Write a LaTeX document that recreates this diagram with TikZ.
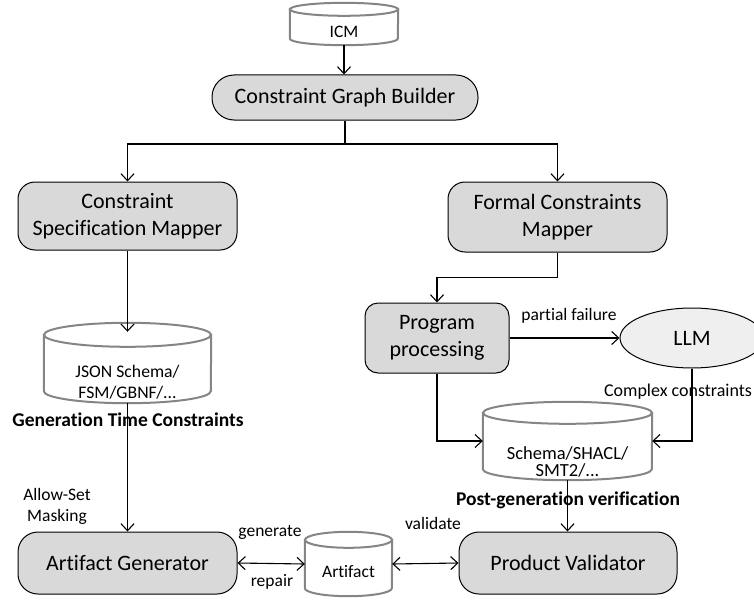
\documentclass[tikz,border=0pt]{standalone}
\usepackage{fontspec}
\setmainfont{Carlito}[Ligatures=NoCommon]
\usetikzlibrary{arrows.meta,calc,shapes.geometric}
\definecolor{boxfill}{HTML}{D9D9D9}
\definecolor{llmfill}{HTML}{EFEFEF}
\definecolor{cylgray}{HTML}{858585}
\newcommand\drawcyl[3]{%
  \filldraw[cylline] ($(#1.north west)+(0,#3)$) -- ($(#1.south west)+(0,-#3)$)
    arc[start angle=180,end angle=0,x radius=#2,y radius=#3]
    -- ($(#1.north east)+(0,#3)$) -- cycle;
  \filldraw[cylline] ($(#1.north)+(0,#3)$) ellipse[x radius=#2,y radius=#3];
}
\begin{document}
\begin{tikzpicture}[x=1pt,y=-1pt,
  box/.style={draw=black, line width=1pt, fill=boxfill, rounded corners=#1,
    align=center, font=\fontsize{22}{27}\selectfont, inner sep=0pt},
  box/.default=17pt,
  cylbody/.style={draw=none, inner sep=0pt},
  cylline/.style={draw=cylgray, line width=2pt, fill=white},
  cyltext/.style={font=\fontsize{17.5}{21}\selectfont, align=center, inner sep=0pt},
  lbl/.style={font=\fontsize{17.5}{21}\selectfont, inner sep=0pt, align=center},
  blbl/.style={font=\bfseries\fontsize{19.5}{23}\selectfont, inner sep=0pt},
  conn/.style={draw=black, line width=1.1pt},
  arr/.style={conn, -{Straight Barb[length=7pt,width=13pt]}},
  dbl/.style={conn, {Straight Barb[length=7pt,width=13pt]}-{Straight Barb[length=7pt,width=13pt]}}
]
\useasboundingbox (0,0) rectangle (754,599);

% process boxes
\node[box=22pt, minimum width=266pt, minimum height=45pt] (cgb) at (345,97.5) {Constraint Graph Builder};
\node[box, minimum width=219pt, minimum height=68pt] (csm) at (127.5,216) {Constraint\\Specification Mapper};
\node[box, minimum width=219pt, minimum height=70pt] (fcm) at (557.5,217) {Formal Constraints\\Mapper};
\node[box=13pt, minimum width=144pt, minimum height=70pt] (pp) at (437,338) {Program\\processing};
\node[box=20pt, minimum width=219pt, minimum height=62pt] (ag) at (127.5,563) {Artifact Generator};
\node[box=20pt, minimum width=218pt, minimum height=62pt] (pv) at (568,563) {Product Validator};
\node[ellipse, draw=black, line width=1pt, fill=llmfill, minimum width=144pt, minimum height=60pt,
  inner sep=0pt, font=\fontsize{22}{27}\selectfont] (llm) at (692,338) {LLM};

% cylinders
\node[cylbody, minimum width=108pt, minimum height=42pt] (icm) at (344,24) {};
\drawcyl{icm}{54}{6.5}
\node[cyltext] (icmtext) at (344,32) {ICM};

\node[cylbody, minimum width=167pt, minimum height=80pt] (json) at (127.5,363) {};
\drawcyl{json}{83.5}{12}
\node[cyltext, font=\fontsize{17.7}{21}\selectfont] (jsontext) at (127.5,382) {JSON Schema/\\FSM/GBNF/...};

\node[cylbody, minimum width=169pt, minimum height=78pt] (schema) at (567.5,441) {};
\drawcyl{schema}{84.5}{11}
\node[cyltext, font=\fontsize{18.5}{17.5}\selectfont] (schematext) at (567.5,462) {Schema/SHACL/\\SMT2/...};

\node[cylbody, minimum width=87pt, minimum height=64pt] (artifact) at (348.5,564) {};
\drawcyl{artifact}{43.5}{8}
\node[cyltext] (artifacttext) at (348.5,572) {Artifact};

% connectors
\coordinate (split) at (345,144);
\draw[arr] (icm.south) -- (icm.south |- cgb.north);
\draw[conn] (cgb.south) -- (split);
\draw[arr] (split) -| (csm.north);
\draw[arr] (split) -| (fcm.north);
\draw[arr] (csm.south) -- ($(json.north)+(0,9)$);
\draw[arr] (json.south) -- (ag.north);
\draw[arr] (fcm.south) -- ++(0,25) -| (pp.north);
\draw[arr] (pp.east) -- (llm.west);
\draw[arr] (pp.south) |- (schema.west);
\draw[arr] (llm.south) |- (schema.east);
\draw[arr] (schema.south) -- (schema.south |- pv.north);
\draw[dbl] (ag.east) -- (artifact.west);
\draw[dbl] (artifact.east) -- (pv.west);

% labels
\node[lbl] (lpartial) at (569,316) {partial failure};
\node[lbl, font=\fontsize{18}{21}\selectfont] (lcomplex) at (678,392) {Complex constraints};
\node[blbl] (lgen) at (128,420) {Generation Time Constraints};
\node[blbl] (lpost) at (568,500) {Post-generation verification};
\node[lbl] (lallow) at (57,506) {Allow-Set\\Masking};
\node[lbl] (lgenerate) at (270,532) {generate};
\node[lbl] (lrepair) at (272,582) {repair};
\node[lbl] (lvalidate) at (433,523) {validate};
\end{tikzpicture}
\end{document}
